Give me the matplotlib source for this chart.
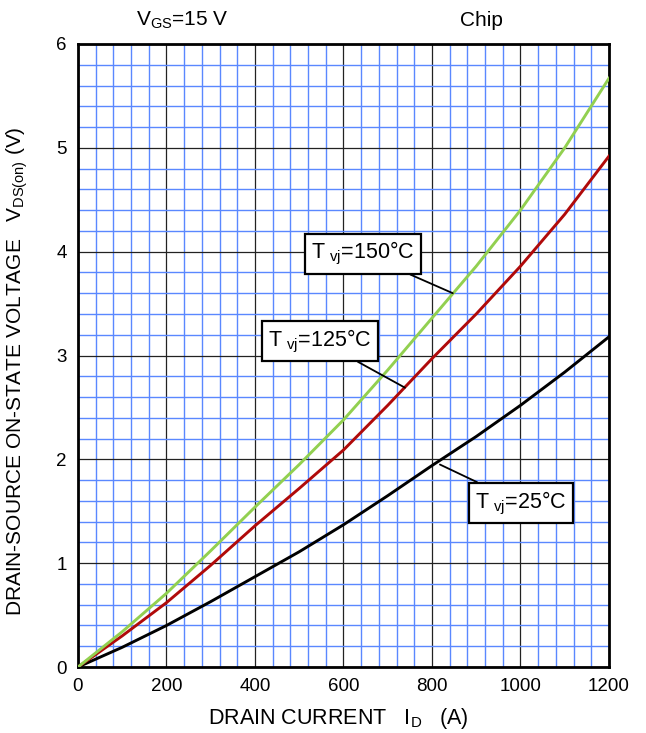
import matplotlib
matplotlib.use("Agg")
import matplotlib.pyplot as plt
from matplotlib.ticker import MultipleLocator

plt.rcParams['font.family'] = ['Liberation Sans', 'DejaVu Sans']
plt.rcParams['mathtext.default'] = 'regular'

# Drain current (A)
current = [0, 100, 200, 300, 400, 500, 600, 700, 800, 900, 1000, 1100, 1200]
# On-state voltage V_DS(on) (V) for each junction temperature
v_25 = [0, 0.19, 0.40, 0.63, 0.87, 1.11, 1.37, 1.65, 1.94, 2.22, 2.52, 2.84, 3.18]
v_125 = [0, 0.30, 0.62, 0.98, 1.36, 1.72, 2.09, 2.52, 2.97, 3.40, 3.86, 4.36, 4.92]
v_150 = [0, 0.34, 0.71, 1.12, 1.54, 1.95, 2.38, 2.86, 3.36, 3.86, 4.40, 5.00, 5.67]

x_ticks = [0, 200, 400, 600, 800, 1000, 1200]
y_ticks = [0, 1, 2, 3, 4, 5, 6]

fig = plt.figure(figsize=(6.46, 7.33), dpi=100)
ax = fig.add_axes([0.1207, 0.090, 0.822, 0.850])

ax.set_xlim(0, 1200)
ax.set_ylim(0, 6)
ax.set_xticks(x_ticks)
ax.set_yticks(y_ticks)
ax.xaxis.set_minor_locator(MultipleLocator(40))
ax.yaxis.set_minor_locator(MultipleLocator(0.2))
ax.grid(which='minor', color='#5A88FF', lw=1.0)
ax.grid(which='major', color='#222222', lw=0.9)
ax.set_axisbelow(True)
ax.tick_params(which='both', length=0, labelsize=13.5, pad=8)

for s in ax.spines.values():
    s.set_linewidth(2.0)
    s.set_color('black')

ax.plot(current, v_25, color='black', lw=2.1, zorder=3)
ax.plot(current, v_125, color='#B00A0A', lw=2.1, zorder=3)
ax.plot(current, v_150, color='#92D050', lw=2.1, zorder=3)

ax.set_xlabel('DRAIN CURRENT   $I_D$   (A)', fontsize=15.5, labelpad=6)
ax.set_ylabel('DRAIN-SOURCE ON-STATE VOLTAGE   $V_{DS(on)}$ (V)', fontsize=15)
ax.yaxis.set_label_coords(-0.09, 0.475)
ax.xaxis.set_label_coords(0.49, -0.062)

fig.text(0.21, 0.972, '$V_{GS}$=15 V', fontsize=15, ha='left', va='center')
fig.text(0.746, 0.972, 'Chip', fontsize=15, ha='center', va='center')

box = dict(boxstyle='square,pad=0.3', fc='white', ec='black', lw=1.6)
arrow = dict(arrowstyle='-', color='black', lw=1.3, shrinkA=0, shrinkB=0)

ax.annotate('T$_{\\ vj}$=150°C', xy=(847, 3.60), xytext=(644, 3.98),
            fontsize=15.5, ha='center', va='center', bbox=box,
            arrowprops=arrow, zorder=5)
ax.annotate('T$_{\\ vj}$=125°C', xy=(739, 2.69), xytext=(547, 3.14),
            fontsize=15.5, ha='center', va='center', bbox=box,
            arrowprops=arrow, zorder=5)
ax.annotate('T$_{\\ vj}$=25°C', xy=(818, 1.95), xytext=(1001, 1.58),
            fontsize=15.5, ha='center', va='center', bbox=box,
            arrowprops=arrow, zorder=5)

fig.savefig('out.png', dpi=100)
